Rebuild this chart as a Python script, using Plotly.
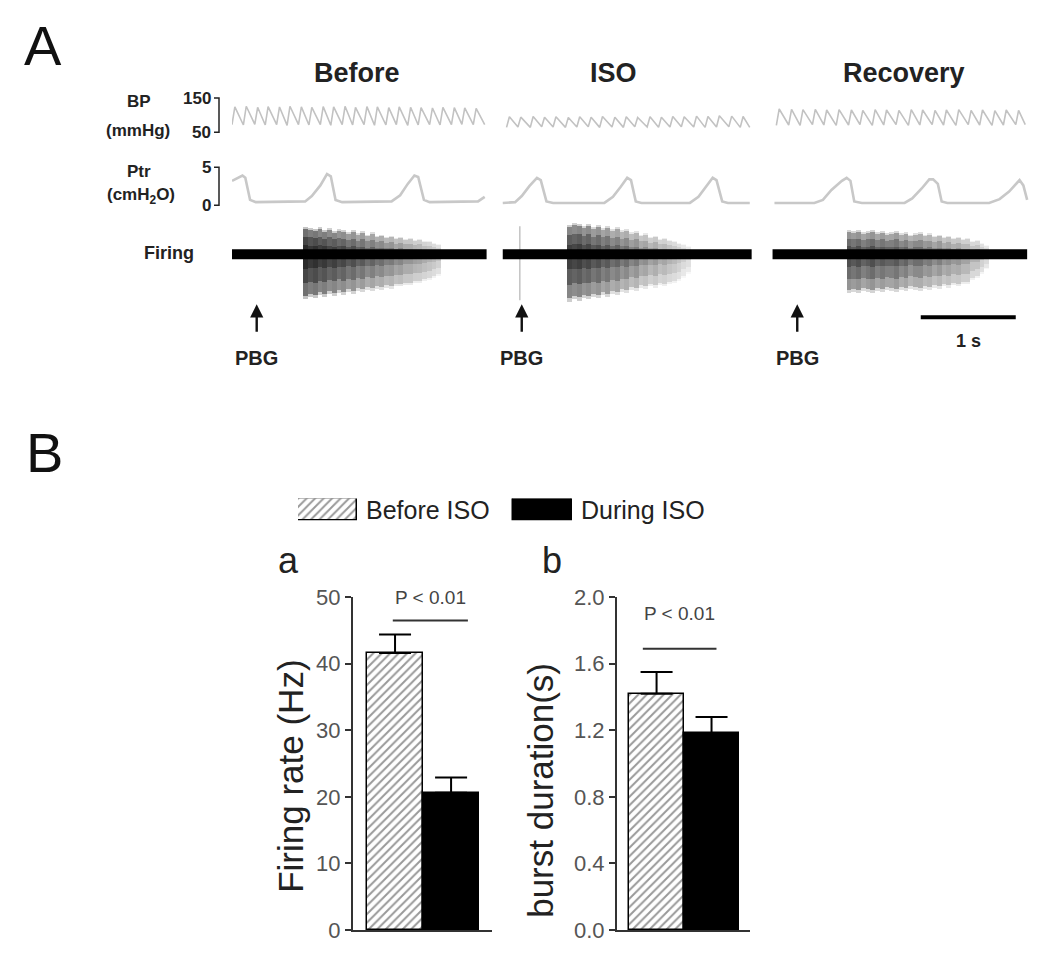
import plotly.graph_objects as go

W, H = 1050, 967
FONT = "Liberation Sans, Arial, sans-serif"
# the captured picture shows the page with a small vertical offset/compression;
# target positions below are in reference-picture pixels and mapped accordingly
Y_OFF, Y_SPAN = 12.0, 941.0


def px(x):
    return x / W


def py(y):
    return 1 - (y - Y_OFF) / Y_SPAN


conditions = ["Before", "ISO", "Recovery"]
panel_offset_s = [0.0, 2.85, 5.69]
panel_len_s = [2.68, 2.62, 2.68]

bp_before_t = [0.03, 0.15, 0.27, 0.38, 0.50, 0.61, 0.73, 0.84, 0.96, 1.07, 1.19, 1.30,
               1.42, 1.53, 1.65, 1.76, 1.88, 1.99, 2.11, 2.22, 2.34, 2.45, 2.57]
bp_before_sys = [124, 126, 123, 125, 124, 126, 124, 123, 125, 124, 126, 123,
                 125, 124, 122, 124, 123, 122, 121, 123, 122, 121, 120]
bp_before_dia = [72, 71, 73, 71, 72, 70, 72, 71, 72, 70, 72, 71,
                 72, 70, 71, 72, 70, 71, 72, 71, 72, 73, 72]

bp_iso_t = [0.07, 0.19, 0.32, 0.44, 0.56, 0.69, 0.81, 0.93, 1.05, 1.18, 1.30,
            1.42, 1.55, 1.67, 1.79, 1.91, 2.04, 2.16, 2.28, 2.41, 2.53]
bp_iso_sys = [95, 94, 96, 94, 95, 93, 95, 94, 96, 94, 95,
              93, 95, 94, 96, 95, 97, 96, 98, 97, 96]
bp_iso_dia = [64, 65, 64, 66, 65, 64, 65, 66, 64, 65, 64,
              66, 65, 64, 65, 66, 65, 64, 65, 66, 64]

bp_rec_t = [0.07, 0.20, 0.32, 0.45, 0.57, 0.70, 0.83, 0.95, 1.08, 1.20, 1.33,
            1.46, 1.58, 1.71, 1.83, 1.96, 2.09, 2.21, 2.34, 2.46, 2.59]
bp_rec_sys = [118, 117, 116, 117, 115, 116, 115, 114, 116, 115, 114,
              116, 115, 114, 115, 116, 114, 115, 113, 115, 114]
bp_rec_dia = [70, 71, 70, 72, 71, 70, 71, 72, 70, 71, 72,
              70, 71, 72, 71, 70, 72, 71, 70, 71, 72]

ptr_before_t = [0.00, 0.11, 0.14, 0.19, 0.25, 0.77, 0.84, 0.93, 1.00, 1.04, 1.09,
                1.16, 1.68, 1.77, 1.85, 1.92, 1.96, 2.02, 2.08, 2.59, 2.66]
ptr_before_v = [3.2, 3.9, 3.6, 0.7, 0.4, 0.5, 1.2, 2.6, 4.1, 3.8, 0.7,
                0.4, 0.5, 1.3, 2.8, 3.9, 3.7, 0.7, 0.4, 0.5, 1.1]
ptr_iso_t = [0.00, 0.13, 0.20, 0.28, 0.36, 0.40, 0.46, 0.53, 1.07, 1.16, 1.24, 1.31,
             1.35, 1.40, 1.46, 1.97, 2.06, 2.14, 2.21, 2.25, 2.31, 2.37, 2.60]
ptr_iso_v = [0.3, 0.4, 1.2, 2.5, 3.6, 3.3, 0.5, 0.3, 0.3, 1.1, 2.4, 3.6,
             3.3, 0.5, 0.3, 0.3, 1.1, 2.4, 3.6, 3.3, 0.5, 0.3, 0.3]
ptr_rec_t = [0.02, 0.44, 0.53, 0.62, 0.73, 0.78, 0.82, 0.86, 0.94, 1.39, 1.47, 1.57,
             1.65, 1.69, 1.74, 1.78, 1.84, 2.28, 2.39, 2.49, 2.60, 2.64, 2.68]
ptr_rec_v = [0.3, 0.3, 0.7, 2.0, 3.2, 3.6, 3.2, 0.5, 0.3, 0.3, 0.9, 2.2,
             3.4, 3.4, 2.8, 0.5, 0.3, 0.3, 0.8, 1.8, 3.3, 2.6, 0.7]

fire_before_t = [0.75, 0.80, 0.85, 0.90, 0.95, 1.00, 1.05, 1.10, 1.15, 1.20, 1.25, 1.30,
                 1.35, 1.40, 1.45, 1.50, 1.55, 1.60, 1.65, 1.70, 1.75, 1.80, 1.85, 1.90,
                 1.95, 2.00, 2.05, 2.10, 2.15]
fire_before_up = [25, 24, 23, 25, 22, 24, 21, 23, 22, 20, 22, 19, 21, 18, 20, 17, 18, 16,
                  17, 15, 16, 14, 15, 13, 14, 12, 12, 10, 9]
fire_before_down = [42, 40, 41, 38, 40, 37, 39, 36, 38, 35, 37, 34, 35, 33, 34, 32, 33, 31,
                    32, 30, 30, 29, 29, 27, 27, 25, 24, 22, 20]
fire_before_dens = [0.85, 0.75, 0.8, 0.7, 0.75, 0.65, 0.7, 0.6, 0.65, 0.55, 0.6, 0.5, 0.55,
                    0.45, 0.5, 0.42, 0.45, 0.38, 0.4, 0.33, 0.35, 0.3, 0.3, 0.26, 0.25, 0.22,
                    0.2, 0.18, 0.15]

fire_iso_t = [0.68, 0.73, 0.78, 0.83, 0.88, 0.93, 0.98, 1.03, 1.08, 1.13, 1.18, 1.23, 1.28,
              1.33, 1.38, 1.43, 1.48, 1.53, 1.58, 1.63, 1.68, 1.73, 1.78, 1.83, 1.88, 1.93]
fire_iso_up = [27, 29, 28, 26, 28, 25, 27, 24, 26, 23, 25, 22, 23, 20, 21, 18, 19, 16, 17,
               14, 15, 13, 12, 10, 9, 7]
fire_iso_down = [44, 42, 43, 41, 42, 40, 41, 38, 40, 37, 38, 35, 36, 33, 34, 31, 32, 30, 31,
                 29, 30, 28, 27, 25, 22, 18]
fire_iso_dens = [0.7, 0.65, 0.7, 0.6, 0.65, 0.55, 0.6, 0.5, 0.55, 0.45, 0.5, 0.4, 0.45, 0.35,
                 0.4, 0.3, 0.32, 0.25, 0.28, 0.22, 0.24, 0.2, 0.18, 0.15, 0.12, 0.1]
fire_iso_artifact = [0.18, 28, 46]

fire_rec_t = [0.78, 0.83, 0.88, 0.93, 0.98, 1.03, 1.08, 1.13, 1.18, 1.23, 1.28, 1.33, 1.38,
              1.43, 1.48, 1.53, 1.58, 1.63, 1.68, 1.73, 1.78, 1.83, 1.88, 1.93, 1.98, 2.03,
              2.08, 2.13, 2.18, 2.23]
fire_rec_up = [22, 21, 22, 20, 21, 22, 20, 21, 19, 20, 21, 19, 20, 18, 19, 20, 18, 19, 17,
               18, 16, 17, 15, 16, 14, 15, 12, 13, 10, 8]
fire_rec_down = [36, 35, 36, 34, 35, 36, 34, 35, 33, 34, 35, 33, 34, 32, 33, 34, 32, 33, 31,
                 32, 30, 31, 29, 30, 28, 28, 24, 22, 18, 14]
fire_rec_dens = [0.6, 0.55, 0.6, 0.5, 0.55, 0.6, 0.5, 0.55, 0.5, 0.5, 0.55, 0.45, 0.5, 0.4,
                 0.45, 0.45, 0.38, 0.4, 0.33, 0.38, 0.3, 0.33, 0.28, 0.3, 0.25, 0.25, 0.2,
                 0.2, 0.15, 0.12]

pbg_t = [0.26, 0.20, 0.26]
fire_bin_s = 0.05
scale_bar_start_s = 7.25
scale_bar_len_s = 1.0

groups = ["Before ISO", "During ISO"]
firing_rate_mean = [41.6, 20.6]
firing_rate_sem = [2.8, 2.3]
burst_dur_mean = [1.42, 1.18]
burst_dur_sem = [0.13, 0.10]
firing_rate_ticks = [0, 10, 20, 30, 40, 50]
burst_dur_ticks = [0.0, 0.4, 0.8, 1.2, 1.6, 2.0]

fig = go.Figure()

bp_sets = [(bp_before_t, bp_before_sys, bp_before_dia),
           (bp_iso_t, bp_iso_sys, bp_iso_dia),
           (bp_rec_t, bp_rec_sys, bp_rec_dia)]
ptr_sets = [(ptr_before_t, ptr_before_v), (ptr_iso_t, ptr_iso_v), (ptr_rec_t, ptr_rec_v)]
fire_sets = [(fire_before_t, fire_before_up, fire_before_down, fire_before_dens),
             (fire_iso_t, fire_iso_up, fire_iso_down, fire_iso_dens),
             (fire_rec_t, fire_rec_up, fire_rec_down, fire_rec_dens)]

burst_layers = [(1.08, 0.25), (1.0, 0.45), (0.7, 0.4), (0.35, 0.4)]

for k in range(3):
    off = panel_offset_s[k]
    t, sys_, dia = bp_sets[k]
    xs, ys = [], []
    for ti, s, d in zip(t, sys_, dia):
        xs += [off + max(ti - 0.03, 0), off + ti]
        ys += [d, s]
    xs.append(off + panel_len_s[k] - 0.02)
    ys.append(dia[-1])
    fig.add_trace(go.Scatter(x=xs, y=ys, mode="lines", xaxis="x", yaxis="y",
                             line=dict(color="#c2c2c2", width=1.6), hoverinfo="skip"))
    pt, pv = ptr_sets[k]
    fig.add_trace(go.Scatter(x=[off + v for v in pt], y=pv, mode="lines", xaxis="x", yaxis="y2",
                             line=dict(color="#c8c8c8", width=2.6), hoverinfo="skip"))
    ft, fu, fd, fa = fire_sets[k]
    for frac, op in burst_layers:
        cols = [f"rgba(0,0,0,{min(a * op / 0.45 * 0.5, 1):.3f})" for a in fa]
        fig.add_trace(go.Bar(x=[off + v + fire_bin_s / 2 for v in ft],
                             y=[(u + d) * frac for u, d in zip(fu, fd)],
                             base=[-d * frac for d in fd],
                             width=fire_bin_s, xaxis="x", yaxis="y3",
                             marker=dict(color=cols, line=dict(width=0)), hoverinfo="skip"))
    fig.add_trace(go.Scatter(x=[off, off + panel_len_s[k]], y=[0, 0], mode="lines",
                             xaxis="x", yaxis="y3", line=dict(color="black", width=10),
                             hoverinfo="skip"))

fig.add_trace(go.Scatter(x=[panel_offset_s[1] + fire_iso_artifact[0]] * 2,
                         y=[fire_iso_artifact[1], -fire_iso_artifact[2]], mode="lines",
                         xaxis="x", yaxis="y3", line=dict(color="rgba(0,0,0,0.3)", width=1.2),
                         hoverinfo="skip"))

hatch = dict(color="white", line=dict(color="black", width=1.5),
             pattern=dict(shape="/", fgcolor="#333333", bgcolor="white", size=6, solidity=0.33))
solid = dict(color="black", line=dict(color="black", width=1.5))

for (mean, sem, xa, ya) in [(firing_rate_mean, firing_rate_sem, "x2", "y4"),
                            (burst_dur_mean, burst_dur_sem, "x3", "y5")]:
    for i, mk in enumerate([hatch, solid]):
        fig.add_trace(go.Bar(x=[i], y=[mean[i]], width=1, xaxis=xa, yaxis=ya, marker=mk,
                             name=groups[i], showlegend=False,
                             error_y=dict(type="data", array=[sem[i]], arrayminus=[0],
                                          symmetric=False, color="black", thickness=2, width=16)))

for i, mk in enumerate([hatch, solid]):
    fig.add_trace(go.Bar(x=[i], y=[1], width=0.274, xaxis="x4", yaxis="y6", marker=mk,
                         showlegend=False, hoverinfo="skip"))

axis_common = dict(showline=True, linecolor="#333333", linewidth=2, ticks="outside",
                   ticklen=6, tickwidth=1.5, tickcolor="#333333",
                   tickfont=dict(family=FONT, size=22, color="#555555"), zeroline=False,
                   showgrid=False)
xbar_common = dict(showline=True, linecolor="#333333", linewidth=2, ticks="",
                   showticklabels=False, showgrid=False, zeroline=False)
hidden = dict(visible=False, showgrid=False, zeroline=False)

fig.update_layout(
    width=W, height=H, margin=dict(l=0, r=0, t=0, b=0),
    paper_bgcolor="white", plot_bgcolor="white", showlegend=False,
    barmode="overlay", bargap=0,
    font=dict(family=FONT, color="#222222"),
    xaxis=dict(domain=[px(232), px(1030)], range=[0, 8.40], anchor="y3", **hidden),
    yaxis=dict(domain=[py(140), py(90)], range=[26.5, 173.5], anchor="x", **hidden),
    yaxis2=dict(domain=[py(212), py(160)], range=[-0.92, 5.92], anchor="x", **hidden),
    yaxis3=dict(domain=[py(304), py(220)], range=[-50, 34], anchor="x", **hidden),
    xaxis2=dict(domain=[px(353), px(492)], range=[-0.75, 1.73], anchor="y4", **xbar_common),
    yaxis4=dict(domain=[py(929), py(596.5)], range=[0, 50], anchor="x2",
                tickvals=firing_rate_ticks, **axis_common),
    xaxis3=dict(domain=[px(617), px(750)], range=[-0.72, 1.70], anchor="y5", **xbar_common),
    yaxis5=dict(domain=[py(929), py(596.5)], range=[0, 2.0], anchor="x3",
                tickvals=burst_dur_ticks, tickformat=".1f", **axis_common),
    xaxis4=dict(domain=[px(298), px(572)], range=[-0.137, 1.137], anchor="y6", **hidden),
    yaxis6=dict(domain=[py(520), py(498)], range=[0, 1], anchor="x4", **hidden),
)

ann = []


def text(x, y, s, size, color="#222222", xanchor="center", **kw):
    d = dict(x=px(x), y=py(y), xref="paper", yref="paper", text=s, showarrow=False,
             xanchor=xanchor, yanchor="middle", font=dict(family=FONT, size=size, color=color))
    d.update(kw)
    ann.append(d)


text(43, 45, "A", 56, "#111111")
text(44, 452, "B", 56, "#111111")
for name, cx in zip(conditions, [357, 613, 904]):
    text(cx, 73, f"<b>{name}</b>", 27)
text(139, 101, "<b>BP</b>", 17)
text(138, 130, "<b>(mmHg)</b>", 17)
text(139, 171, "<b>Ptr</b>", 17)
text(141, 196, "<b>(cmH<sub>2</sub>O)</b>", 17)
text(169, 253, "<b>Firing</b>", 18)
for v in (150, 50):
    ann.append(dict(x=px(213), y=v, xref="paper", yref="y", text=f"<b>{v}</b>", showarrow=False,
                    xanchor="right", yanchor="middle", font=dict(family=FONT, size=17, color="#222")))
for v in (5, 0):
    ann.append(dict(x=px(213), y=v, xref="paper", yref="y2", text=f"<b>{v}</b>", showarrow=False,
                    xanchor="right", yanchor="middle", font=dict(family=FONT, size=17, color="#222")))

for k in range(3):
    ann.append(dict(x=panel_offset_s[k] + pbg_t[k], y=py(304), xref="x", yref="paper",
                    text="<b>PBG</b>", showarrow=True, ax=0, ay=54, arrowhead=2, arrowsize=1.1,
                    arrowwidth=2.4, arrowcolor="#111111", startstandoff=14,
                    font=dict(family=FONT, size=20, color="#222222")))

ann.append(dict(x=scale_bar_start_s + scale_bar_len_s / 2, y=py(341), xref="x", yref="paper",
                text="<b>1 s</b>", showarrow=False, font=dict(family=FONT, size=18, color="#222222")))

text(364, 509, "Before ISO", 25, xanchor="left")
text(579, 509, "During ISO", 25, xanchor="left")
text(288, 560, "a", 36)
text(552, 560, "b", 36)
text(291, 776, "Firing rate (Hz)", 35, textangle=-90)
text(541, 790, "burst duration(s)", 35, textangle=-90)
ann.append(dict(x=0.63, y=49.9, xref="x2", yref="y4", text="P &lt; 0.01", showarrow=False,
                font=dict(family=FONT, size=19, color="#444444")))
ann.append(dict(x=0.42, y=1.90, xref="x3", yref="y5", text="P &lt; 0.01", showarrow=False,
                font=dict(family=FONT, size=19, color="#444444")))

shapes = [
    dict(type="path", xref="paper", yref="y",
         path=f"M {px(214)},150 L {px(219)},150 L {px(219)},50 L {px(214)},50",
         line=dict(color="#222222", width=1.5)),
    dict(type="path", xref="paper", yref="y2",
         path=f"M {px(214)},5 L {px(219)},5 L {px(219)},0 L {px(214)},0",
         line=dict(color="#222222", width=1.5)),
    dict(type="line", xref="x", yref="paper", x0=scale_bar_start_s,
         x1=scale_bar_start_s + scale_bar_len_s, y0=py(317), y1=py(317),
         line=dict(color="black", width=4)),
    dict(type="line", xref="x2", yref="y4", x0=-0.04, x1=1.30, y0=46.5, y1=46.5,
         line=dict(color="#333333", width=2)),
    dict(type="line", xref="x3", yref="y5", x0=-0.25, x1=1.09, y0=1.69, y1=1.69,
         line=dict(color="#333333", width=2)),
]

fig.update_layout(annotations=ann, shapes=shapes)
fig.write_html("out.html", config={"displayModeBar": False},
               post_script="document.body.style.margin='0px';")
